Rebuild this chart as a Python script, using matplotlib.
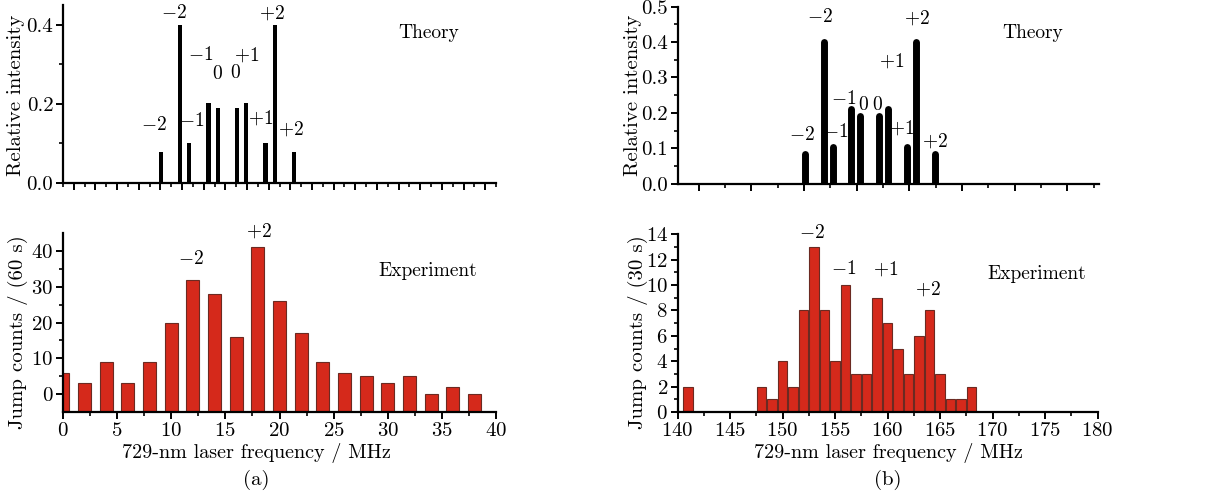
import matplotlib
matplotlib.use("Agg")
import matplotlib.pyplot as plt
from matplotlib.ticker import MultipleLocator, FixedLocator, FormatStrFormatter

plt.rcParams['font.family'] = ['cmr10', 'DejaVu Serif']
plt.rcParams['mathtext.fontset'] = 'cm'
plt.rcParams['axes.formatter.use_mathtext'] = True
plt.rcParams['font.size'] = 14

# ---- data: panel (a)
theory_a_x = [9.05, 10.8, 11.66, 13.45, 14.31, 16.06, 16.92, 18.71, 19.57, 21.36]
theory_a_y = [0.077, 0.40, 0.10, 0.203, 0.188, 0.188, 0.203, 0.10, 0.40, 0.077]
theory_a_lab = ['$-2$', '$-2$', '$-1$', '$-1$', '$0$', '$0$', '$+1$', '$+1$', '$+2$', '$+2$']
theory_a_lab_x = [8.4, 10.24, 11.88, 12.74, 14.3, 15.97, 16.96, 18.25, 19.27, 21.1]
theory_a_lab_y = [0.146, 0.43, 0.155, 0.324, 0.276, 0.279, 0.324, 0.163, 0.43, 0.136]

exp_a_x = [0, 2, 4, 6, 8, 10, 12, 14, 16, 18, 20, 22, 24, 26, 28, 30, 32, 34, 36, 38]
exp_a_y = [6, 3, 9, 3, 9, 20, 32, 28, 16, 41, 26, 17, 9, 6, 5, 3, 5, 0, 2, 0]
exp_a_lab = ['$-2$', '$+2$']
exp_a_lab_x = [11.8, 18.1]
exp_a_lab_y = [37.6, 45.5]

# ---- data: panel (b)
theory_b_x = [152.06, 153.87, 154.72, 156.41, 157.33, 159.14, 159.96, 161.74, 162.63, 164.41]
theory_b_y = [0.085, 0.40, 0.105, 0.21, 0.19, 0.19, 0.21, 0.105, 0.40, 0.085]
theory_b_lab = ['$-2$', '$-2$', '$-1$', '$-1$', '$0$', '$0$', '$+1$', '$+1$', '$+2$', '$+2$']
theory_b_lab_x = [151.8, 153.55, 155.0, 155.75, 157.6, 159.0, 160.3, 161.3, 162.76, 164.4]
theory_b_lab_y = [0.138, 0.472, 0.147, 0.239, 0.222, 0.222, 0.345, 0.156, 0.467, 0.12]

exp_b_x = [141, 148, 149, 150, 151, 152, 153, 154, 155, 156, 157, 158, 159, 160,
           161, 162, 163, 164, 165, 166, 167, 168]
exp_b_y = [2, 2, 1, 4, 2, 8, 13, 8, 4, 10, 3, 3, 9, 7, 5, 3, 6, 8, 3, 1, 1, 2]
exp_b_lab = ['$-2$', '$-1$', '$+1$', '$+2$']
exp_b_lab_x = [152.8, 155.8, 159.8, 163.8]
exp_b_lab_y = [14.08, 11.3, 11.25, 9.67]

W, H = 1217, 498
fig = plt.figure(figsize=(W / 100, H / 100), dpi=100)


def box(x0, y_top, x1, y_bot):
    return [x0 / W, 1 - y_bot / H, (x1 - x0) / W, (y_bot - y_top) / H]


def style(ax):
    for s in ['top', 'right']:
        ax.spines[s].set_visible(False)
    for s in ['left', 'bottom']:
        ax.spines[s].set_linewidth(1.6)
    ax.tick_params(direction='out', width=1.4, length=5, labelsize=15, pad=2)
    ax.tick_params(which='minor', direction='out', width=1.2, length=3)


red = '#d5291b'
edge = '#6b2a22'
fs = 14

# (a) theory
ax = fig.add_axes(box(63, 5, 496, 182.7))
style(ax)
ax.bar(theory_a_x, theory_a_y, width=0.42, color='black')
ax.set_xlim(0, 40)
ax.set_ylim(0, 0.45)
ax.yaxis.set_major_locator(FixedLocator([0.0, 0.2, 0.4]))
ax.yaxis.set_minor_locator(FixedLocator([0.1, 0.3]))
ax.yaxis.set_major_formatter(FormatStrFormatter('%.1f'))
ax.xaxis.set_major_locator(MultipleLocator(2, offset=1))
ax.xaxis.set_minor_locator(MultipleLocator(2))
ax.tick_params(axis='x', labelbottom=False)
for t, x, y in zip(theory_a_lab, theory_a_lab_x, theory_a_lab_y):
    ax.text(x, y, t, ha='center', va='center', fontsize=fs, clip_on=False)
ax.text(33.8, 0.38, 'Theory', ha='center', va='center', fontsize=fs)

# (a) experiment
ax = fig.add_axes(box(63, 233, 496, 412))
style(ax)
ax.bar(exp_a_x, [v + 5 for v in exp_a_y], bottom=-5, width=1.2, color=red,
       edgecolor=edge, linewidth=0.8)
ax.set_xlim(0, 40)
ax.set_ylim(-5, 45)
ax.xaxis.set_major_locator(MultipleLocator(5))
ax.xaxis.set_minor_locator(MultipleLocator(2.5))
ax.yaxis.set_major_locator(FixedLocator([0, 10, 20, 30, 40]))
ax.yaxis.set_minor_locator(FixedLocator([5, 15, 25, 35]))
for t, x, y in zip(exp_a_lab, exp_a_lab_x, exp_a_lab_y):
    ax.text(x, y, t, ha='center', va='center', fontsize=fs, clip_on=False)
ax.text(33.7, 34.3, 'Experiment', ha='center', va='center', fontsize=fs)

# (b) theory
ax = fig.add_axes(box(677.7, 6.7, 1099, 183.7))
style(ax)
ax.vlines(theory_b_x, 0, theory_b_y, color='black', linewidth=5, capstyle='round')
ax.set_xlim(140, 180)
ax.set_ylim(0, 0.5)
ax.yaxis.set_major_locator(MultipleLocator(0.1))
ax.yaxis.set_minor_locator(MultipleLocator(0.05))
ax.yaxis.set_major_formatter(FormatStrFormatter('%.1f'))
ax.xaxis.set_major_locator(MultipleLocator(5, offset=2))
ax.xaxis.set_minor_locator(MultipleLocator(5, offset=4.5))
ax.tick_params(axis='x', labelbottom=False)
for t, x, y in zip(theory_b_lab, theory_b_lab_x, theory_b_lab_y):
    ax.text(x, y, t, ha='center', va='center', fontsize=fs, clip_on=False)
ax.text(173.7, 0.425, 'Theory', ha='center', va='center', fontsize=fs)

# (b) experiment
ax = fig.add_axes(box(677.7, 234.3, 1097.7, 412))
style(ax)
ax.bar(exp_b_x, exp_b_y, width=0.9, color=red, edgecolor=edge, linewidth=0.8)
ax.set_xlim(140, 180)
ax.set_ylim(0, 14)
ax.xaxis.set_major_locator(MultipleLocator(5))
ax.xaxis.set_minor_locator(MultipleLocator(2.5))
ax.yaxis.set_major_locator(MultipleLocator(2))
ax.yaxis.set_minor_locator(MultipleLocator(1))
for t, x, y in zip(exp_b_lab, exp_b_lab_x, exp_b_lab_y):
    ax.text(x, y, t, ha='center', va='center', fontsize=fs, clip_on=False)
ax.text(174.2, 10.9, 'Experiment', ha='center', va='center', fontsize=fs)

# axis titles as figure text
fig.text(16 / W, 1 - 95 / H, 'Relative intensity', rotation=90, ha='center', va='center', fontsize=15)
fig.text(18 / W, 1 - 332 / H, 'Jump counts / (60 s)', rotation=90, ha='center', va='center', fontsize=15)
fig.text(633 / W, 1 - 95 / H, 'Relative intensity', rotation=90, ha='center', va='center', fontsize=15)
fig.text(638 / W, 1 - 332 / H, 'Jump counts / (30 s)', rotation=90, ha='center', va='center', fontsize=15)
fig.text(256 / W, 1 - 453 / H, '729-nm laser frequency / MHz', ha='center', va='center', fontsize=14.5)
fig.text(256 / W, 1 - 480 / H, '(a)', ha='center', va='center', fontsize=15)
fig.text(888 / W, 1 - 453 / H, '729-nm laser frequency / MHz', ha='center', va='center', fontsize=14.5)
fig.text(888 / W, 1 - 480 / H, '(b)', ha='center', va='center', fontsize=15)

fig.savefig('out.png', dpi=100)
